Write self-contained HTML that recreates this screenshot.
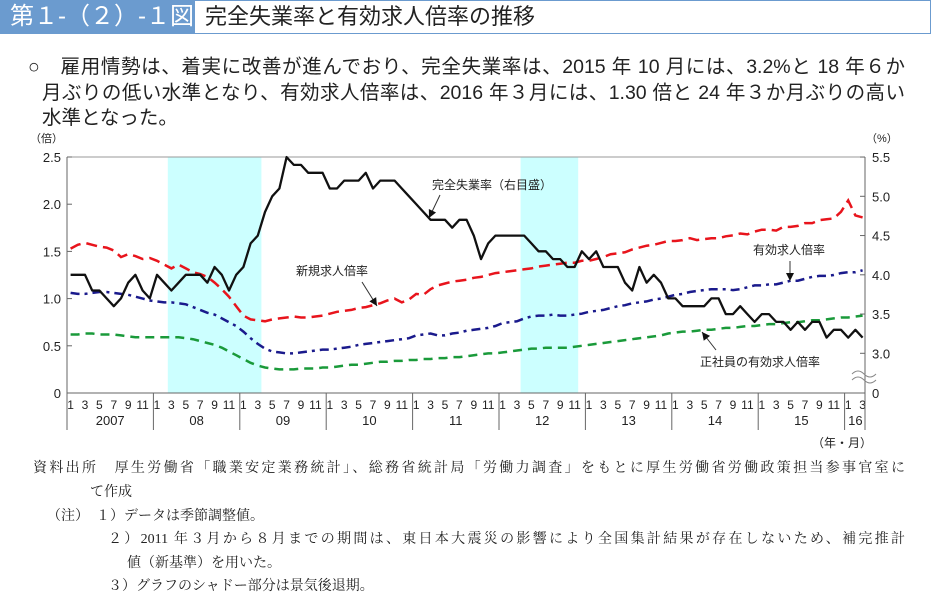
<!DOCTYPE html>
<html><head><meta charset="utf-8"><style>
body{margin:0;width:932px;height:607px;background:#fff;position:relative;overflow:hidden;font-family:"Liberation Sans","Noto Sans CJK JP",sans-serif;color:#222}
.abs{position:absolute;white-space:nowrap}
.jl{position:absolute;text-align:justify;text-align-last:justify;white-space:nowrap;overflow:visible}
.note{font-family:"Liberation Serif","Noto Serif CJK SC",serif;font-size:14px;color:#222}
</style></head><body>
<div class="abs" style="left:0;top:0;width:194px;height:34px;background:#6b9bcf;color:#fff;font-size:24px;line-height:34px;padding-left:10px;box-sizing:border-box">第１-（２）-１図</div>
<div class="abs" style="left:194px;top:0;width:737px;height:34px;border:1px solid #6b9bcf;box-sizing:border-box;font-size:22px;line-height:32px;padding-left:10px">完全失業率と有効求人倍率の推移</div>
<div class="jl" style="left:28px;top:50px;width:877px;font-size:19.5px">○　雇用情勢は、着実に改善が進んでおり、完全失業率は、2015 年 10 月には、3.2%と 18 年６か</div>
<div class="jl" style="left:42px;top:76px;width:863px;font-size:19.5px">月ぶりの低い水準となり、有効求人倍率は、2016 年３月には、1.30 倍と 24 年３か月ぶりの高い</div>
<div class="abs" style="left:42px;top:101px;font-size:19.5px">水準となった。</div>

<svg id="chart" class="abs" style="left:0;top:0" width="932" height="607"></svg>

<div class="jl note" style="left:33px;top:457px;width:872px">資料出所　厚生労働省「職業安定業務統計」、総務省統計局「労働力調査」をもとに厚生労働省労働政策担当参事官室に</div>
<div class="abs note" style="left:90px;top:481px">て作成</div>
<div class="abs note" style="left:47px;top:505px">（注）　１）データは季節調整値。</div>
<div class="jl note" style="left:108px;top:528px;width:797px">２）2011 年３月から８月までの期間は、東日本大震災の影響により全国集計結果が存在しないため、補完推計</div>
<div class="abs note" style="left:127px;top:552px">値（新基準）を用いた。</div>
<div class="abs note" style="left:108px;top:575px">３）グラフのシャドー部分は景気後退期。</div>

<script>
const years=['2007','08','09','10','11','12','13','14','15','16'];
const leftTicks=[0,0.5,1.0,1.5,2.0,2.5];
const rightTicks=[3.0,3.5,4.0,4.5,5.0,5.5];
const recessions=[[14,27],[63,71]];
const unemployment=[4.0,4.0,4.0,3.8,3.8,3.7,3.6,3.7,3.9,4.0,3.8,3.7,
4.0,3.9,3.8,3.9,4.0,4.0,4.0,3.9,4.1,4.0,3.8,4.0,
4.1,4.4,4.5,4.8,5.0,5.1,5.5,5.4,5.4,5.3,5.3,5.3,
5.1,5.1,5.2,5.2,5.2,5.3,5.1,5.2,5.2,5.2,5.1,5.0,
4.9,4.8,4.7,4.7,4.7,4.6,4.7,4.7,4.5,4.2,4.4,4.5,
4.5,4.5,4.5,4.5,4.4,4.3,4.3,4.2,4.2,4.1,4.1,4.3,
4.2,4.3,4.1,4.1,4.1,3.9,3.8,4.1,3.9,4.0,3.9,3.7,
3.7,3.6,3.6,3.6,3.6,3.7,3.7,3.5,3.5,3.6,3.5,3.4,
3.5,3.5,3.4,3.4,3.3,3.4,3.3,3.4,3.4,3.2,3.3,3.3,
3.2,3.3,3.2];
const activeRatio=[1.06,1.05,1.05,1.06,1.07,1.07,1.06,1.05,1.04,1.02,1.00,0.98,
0.97,0.96,0.96,0.95,0.94,0.91,0.88,0.85,0.83,0.79,0.75,0.71,
0.65,0.58,0.52,0.47,0.44,0.43,0.42,0.42,0.43,0.44,0.45,0.46,
0.46,0.47,0.48,0.49,0.51,0.52,0.53,0.54,0.55,0.56,0.57,0.58,
0.61,0.62,0.63,0.61,0.61,0.63,0.64,0.66,0.67,0.68,0.69,0.71,
0.74,0.75,0.76,0.79,0.81,0.82,0.82,0.83,0.82,0.82,0.83,0.84,
0.86,0.87,0.88,0.90,0.92,0.93,0.95,0.96,0.97,0.99,1.00,1.02,
1.04,1.05,1.07,1.08,1.09,1.10,1.10,1.10,1.09,1.10,1.12,1.14,
1.14,1.15,1.15,1.17,1.19,1.19,1.21,1.23,1.24,1.24,1.25,1.27,
1.28,1.28,1.30];
const newRatio=[1.53,1.57,1.59,1.57,1.55,1.54,1.51,1.44,1.47,1.45,1.42,1.43,
1.40,1.36,1.32,1.36,1.32,1.28,1.26,1.23,1.17,1.10,1.02,0.92,
0.82,0.78,0.77,0.76,0.78,0.79,0.80,0.81,0.80,0.80,0.81,0.82,
0.84,0.86,0.87,0.88,0.90,0.91,0.93,0.95,0.98,1.00,0.96,0.99,
1.05,1.04,1.10,1.14,1.16,1.18,1.19,1.20,1.22,1.23,1.25,1.27,
1.28,1.29,1.30,1.31,1.32,1.34,1.35,1.36,1.37,1.38,1.38,1.40,
1.40,1.42,1.44,1.47,1.48,1.49,1.52,1.54,1.56,1.57,1.59,1.61,
1.61,1.62,1.64,1.62,1.63,1.64,1.64,1.66,1.67,1.69,1.68,1.71,
1.73,1.73,1.72,1.76,1.76,1.77,1.80,1.80,1.83,1.84,1.85,1.92,
2.04,1.88,1.86];
const regularRatio=[0.62,0.62,0.63,0.63,0.62,0.62,0.62,0.61,0.60,0.59,0.59,0.59,
0.59,0.59,0.59,0.59,0.58,0.57,0.55,0.53,0.51,0.48,0.44,0.40,
0.36,0.32,0.29,0.27,0.26,0.25,0.25,0.25,0.26,0.26,0.26,0.27,
0.27,0.28,0.29,0.30,0.30,0.31,0.32,0.33,0.33,0.34,0.34,0.35,
0.35,0.36,0.36,0.37,0.37,0.38,0.38,0.39,0.40,0.41,0.42,0.42,
0.43,0.44,0.45,0.46,0.47,0.47,0.48,0.48,0.48,0.48,0.49,0.50,
0.51,0.52,0.53,0.54,0.55,0.56,0.57,0.58,0.59,0.60,0.61,0.63,
0.64,0.65,0.65,0.66,0.67,0.67,0.68,0.69,0.69,0.70,0.71,0.71,
0.72,0.73,0.73,0.74,0.75,0.75,0.76,0.77,0.77,0.78,0.79,0.80,
0.80,0.81,0.82];

const NS='http://www.w3.org/2000/svg';
const svg=document.getElementById('chart');
const X0=67,X1=865,YT=157,YB=393,MW=7.2;
const xB=i=>X0+i*MW;
const xM=i=>X0+(i+0.5)*MW;
const yL=v=>YB-(v/2.5)*(YB-YT);
const yR=v=>353.3-(v-3.0)*78.5;
function el(tag,attrs,parent){const e=document.createElementNS(NS,tag);for(const k in attrs)e.setAttribute(k,attrs[k]);(parent||svg).appendChild(e);return e;}
function txt(s,x,y,anchor,size,parent){const t=el('text',{x:x,y:y,'text-anchor':anchor||'start','font-size':size||13,fill:'#222','font-family':'"Liberation Sans","Noto Sans CJK JP",sans-serif'},parent);t.textContent=s;return t;}

recessions.forEach(r=>{
  const s=el('rect',{x:xB(r[0]),y:YT,width:xB(r[1])-xB(r[0]),height:YB-YT,fill:'#ccffff'});
  
  
});
el('line',{x1:X0,y1:YT,x2:X1,y2:YT,stroke:'#999','stroke-width':1});
el('line',{x1:X0,y1:YB,x2:X1,y2:YB,stroke:'#666','stroke-width':1});
el('line',{x1:X0,y1:YT,x2:X0,y2:YB,stroke:'#666','stroke-width':1});
el('line',{x1:X1,y1:YT,x2:X1,y2:YB,stroke:'#666','stroke-width':1});

leftTicks.forEach(v=>{
  el('line',{x1:X0,y1:yL(v),x2:X0+5,y2:yL(v),stroke:'#666'});
  const t=txt(v===0?'0':v.toFixed(1),61,yL(v)+5,'end',13);
  
  
});
rightTicks.forEach(v=>{
  el('line',{x1:X1-5,y1:yR(v),x2:X1,y2:yR(v),stroke:'#666'});
  const t=txt(v.toFixed(1),872,yR(v)+5,'start',13);
  
  
});
txt('0',872,YB+5,'start',13);
el('path',{d:'M852,374 q6,-6 12,0 t12,0 M852,380 q6,-6 12,0 t12,0',fill:'none',stroke:'#888','stroke-width':1});
txt('（倍）',30,142,'start',11);
txt('（%）',866,142,'start',11);

const nMonths=unemployment.length;
for(let y=0;y<years.length;y++){
  const start=y*12;
  el('line',{x1:xB(start),y1:YB,x2:xB(start),y2:430,stroke:'#666'});
  const end=Math.min(start+12,nMonths);
  for(let m=start;m<end;m+=2){
    const t=txt(String(m-start+1),xM(m),409,'middle',12);
    
    
  }
  const yt=txt(years[y],(xB(start)+xB(end))/2,425,'middle',13);
  
  
}
el('line',{x1:X1,y1:YB,x2:X1,y2:430,stroke:'#666'});
txt('（年・月）',872,447,'end',12);

function series(data,yf,style,name){
  const d=data.map((v,i)=>(i?'L':'M')+xM(i).toFixed(1)+','+yf(v).toFixed(1)).join(' ');
  const p=el('path',Object.assign({d:d,fill:'none'},style));
  
  
}
series(regularRatio,yL,{stroke:'#1a9a3a','stroke-width':2.5,'stroke-dasharray':'9,6'},'regular-employee-ratio-line');
series(activeRatio,yL,{stroke:'#1a1a8c','stroke-width':2.5,'stroke-dasharray':'9,5,3,5'},'active-openings-ratio-line');
series(newRatio,yL,{stroke:'#e8141c','stroke-width':2.5,'stroke-dasharray':'11,6'},'new-openings-ratio-line');
series(unemployment,yR,{stroke:'#111','stroke-width':2.3,'stroke-linejoin':'round'},'unemployment-rate-line');

function arrow(x1,y1,x2,y2){
  el('line',{x1:x1,y1:y1,x2:x2,y2:y2,stroke:'#333','stroke-width':1});
  const a=Math.atan2(y2-y1,x2-x1),L=8,w=4;
  const bx=x2-L*Math.cos(a),by=y2-L*Math.sin(a);
  el('polygon',{points:`${x2},${y2} ${bx-w*Math.sin(a)},${by+w*Math.cos(a)} ${bx+w*Math.sin(a)},${by-w*Math.cos(a)}`,fill:'#111'});
}
let t;
t=txt('完全失業率（右目盛）',432,189,'start',12);
arrow(440,195,429,218);
t=txt('新規求人倍率',296,275,'start',12);
arrow(362,282,377,306);
t=txt('有効求人倍率',753,254,'start',12);
arrow(790,261,790,281);
t=txt('正社員の有効求人倍率',700,366,'start',12);
arrow(716,350,702,332);
</script>
</body></html>
